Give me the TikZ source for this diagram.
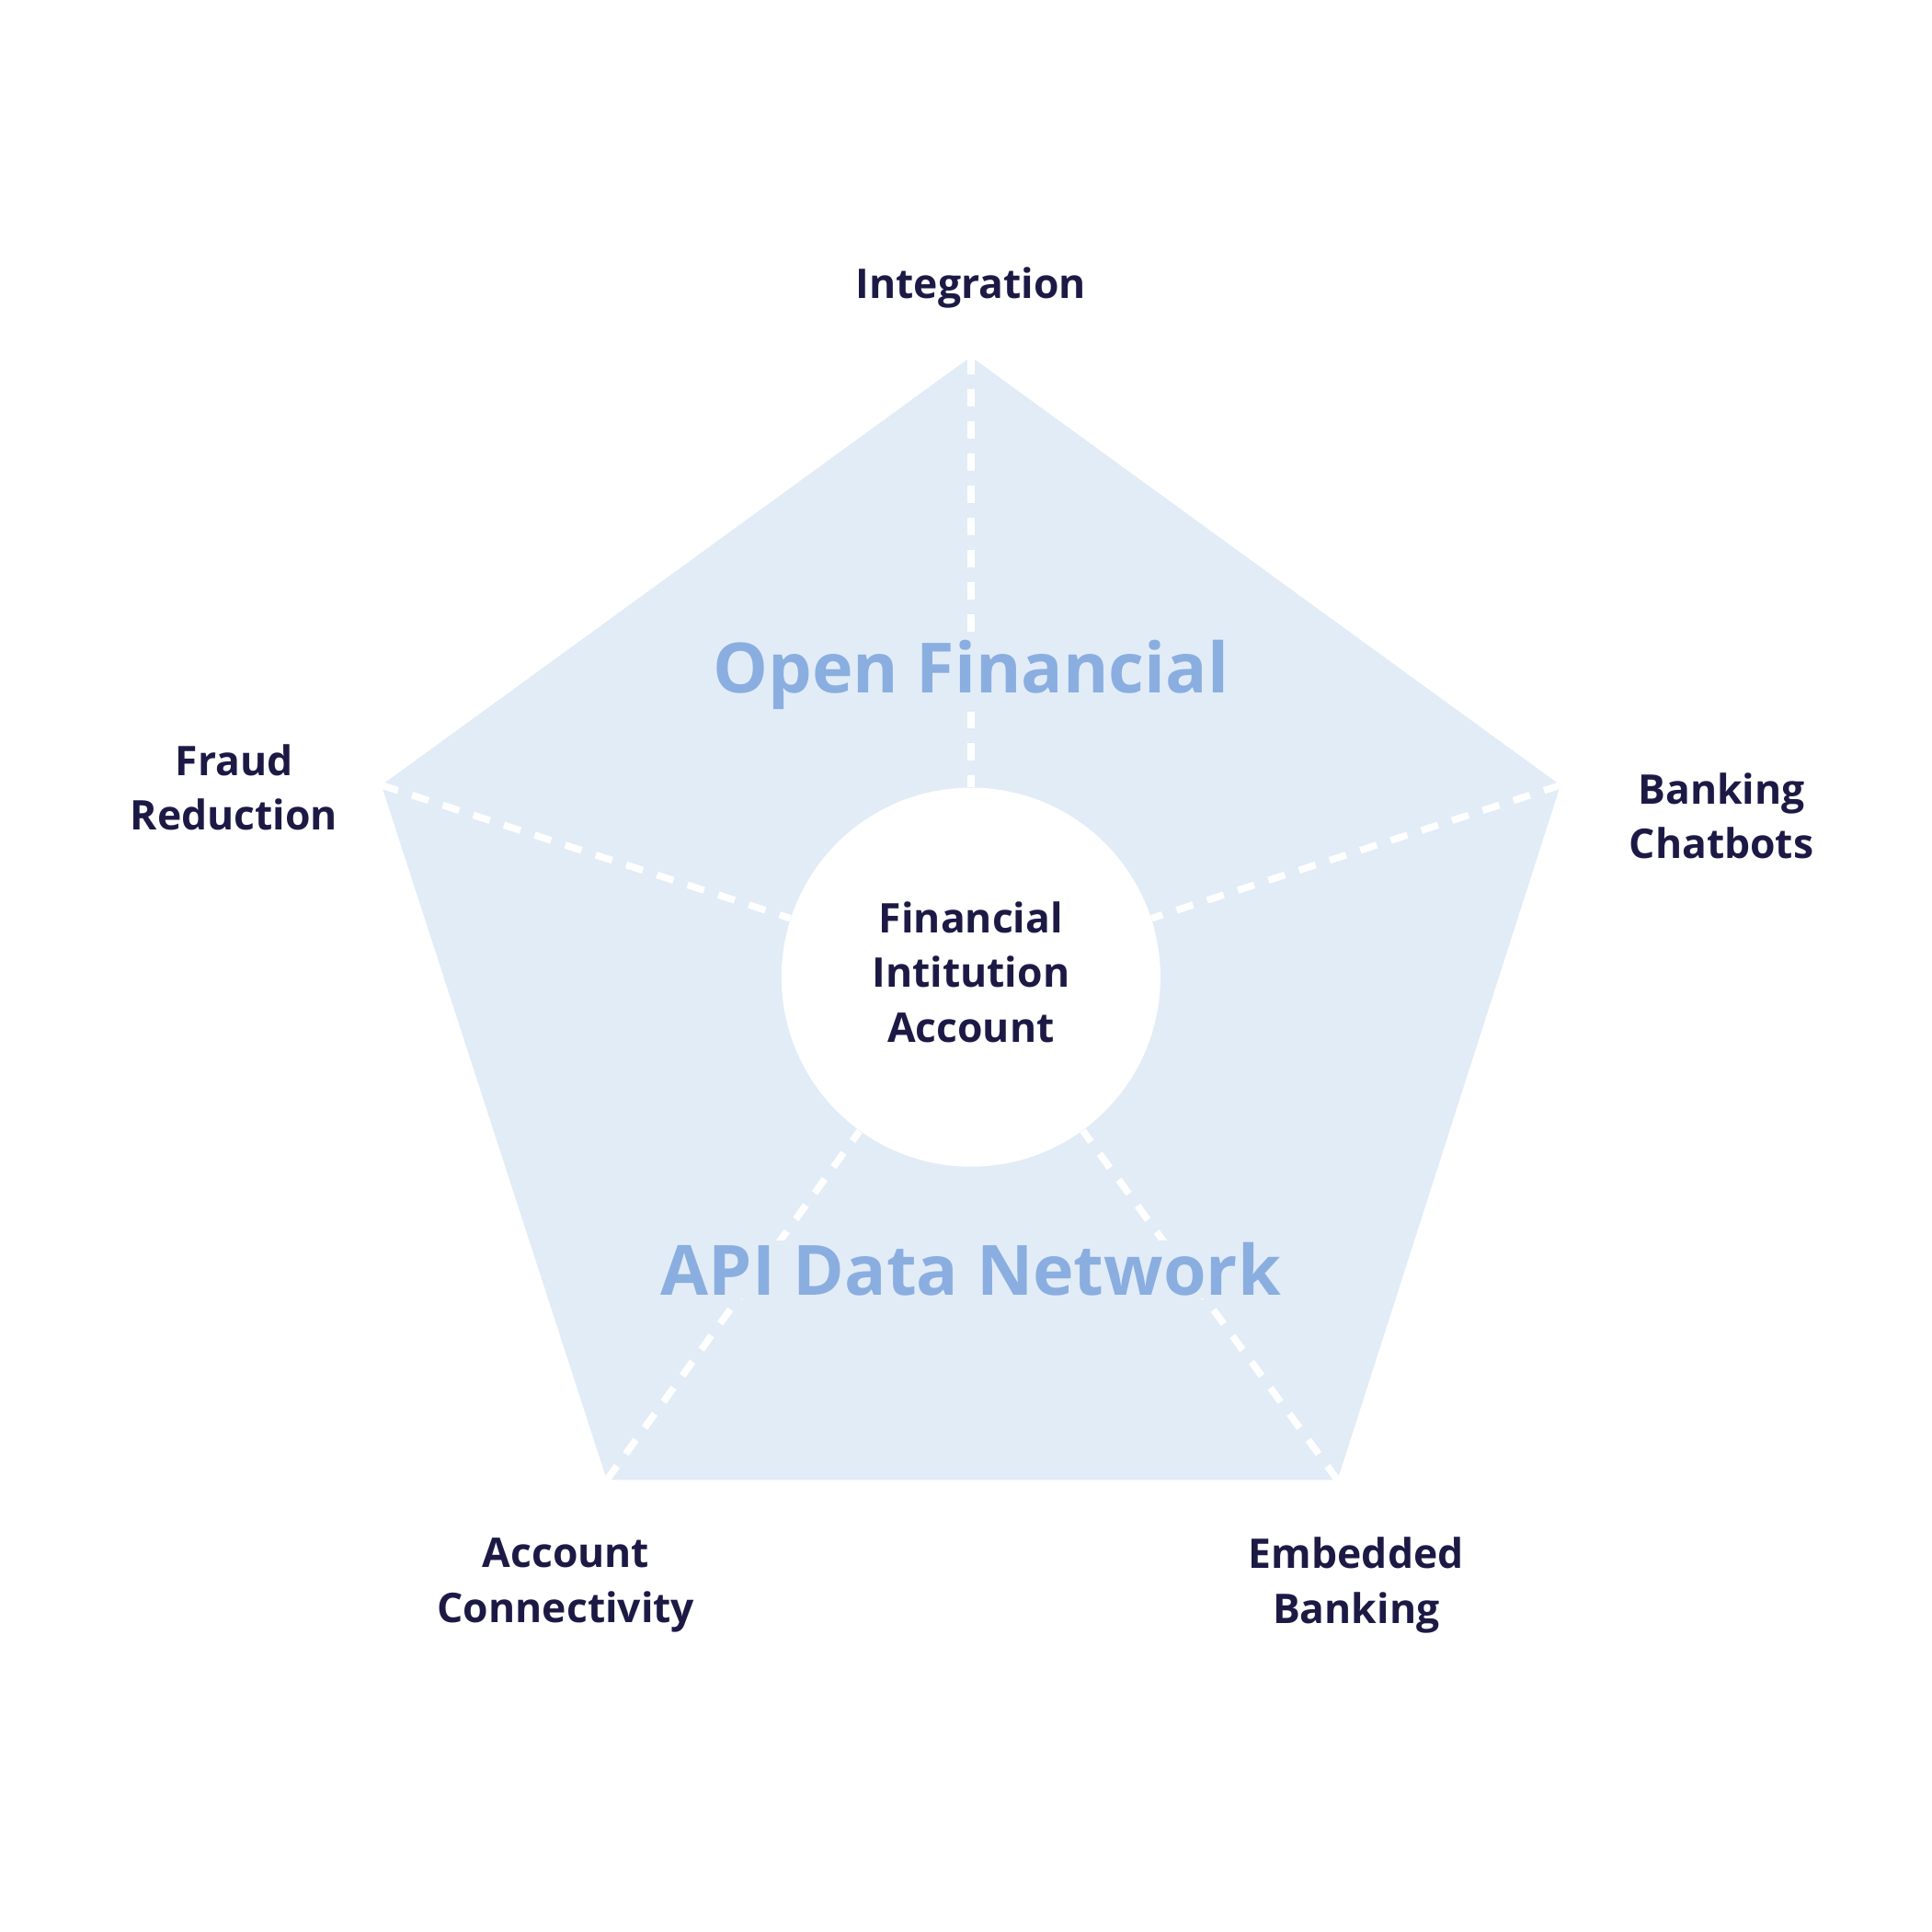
\documentclass[tikz,border=0pt]{standalone}
\usepackage{fontspec}
\setmainfont{Open Sans}
\usepackage{xcolor}
\definecolor{navy}{HTML}{1C1A45}
\definecolor{pentafill}{HTML}{E2ECF7}
\definecolor{titleblue}{HTML}{8AAEE0}
\tikzset{
  label/.style={text=navy,font=\fontsize{16.5}{22}\selectfont\bfseries,align=center},
  title/.style={text=titleblue,font=\fontsize{28}{34}\selectfont\bfseries,fill=pentafill,inner sep=1pt},
  spoke/.style={white,line width=2.8pt,dash pattern=on 7pt off 6pt}
}
\begin{document}
\begin{tikzpicture}[x=0.5pt,y=0.5pt,yscale=-1]
\useasboundingbox (0,0) rectangle (1560,1560);

% pentagon corners
\coordinate (top) at (784,288);
\coordinate (rgt) at (1260,634);
\coordinate (brt) at (1080,1195);
\coordinate (blf) at (490,1195);
\coordinate (lft) at (308,634);
\fill [pentafill] (top) -- (rgt) -- (brt) -- (blf) -- (lft) -- cycle;

\node (hub) [circle,fill=white,minimum size=153pt,inner sep=0pt] at (784,789) {};
\foreach \c in {top,rgt,brt,blf,lft}
  \draw [spoke] (\c) -- (hub);

\node (open) [title] at (784,545) {Open Financial};
\node (api) [title] at (784,1025) {API Data Network};
\node (hubtext) [label] at (784,785) {Financial\\Intitution\\Account};

% Text Node
\node (integ) [label] at (784,232) {Integration};
\node (bank) [label] at (1390,659) {Banking\\Chatbots};
\node (embed) [label] at (1095,1280) {Embedded\\Banking};
\node (accnt) [label] at (457,1280) {Account\\Connectivity};
\node (fraud) [label] at (189,636) {Fraud\\Reduction};
\end{tikzpicture}
\end{document}
